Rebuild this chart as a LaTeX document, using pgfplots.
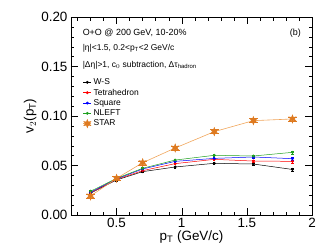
\documentclass[border=0pt]{standalone}
\usepackage{fontspec}
\setmainfont{Liberation Sans}
\usepackage{pgfplots}
\pgfplotsset{compat=1.18}
\definecolor{starorange}{RGB}{222,122,32}
\definecolor{starline}{RGB}{240,165,90}
\definecolor{nleft}{RGB}{30,160,30}
\pgfdeclareplotmark{hexstar}{%
  \pgfpathmoveto{\pgfqpointpolar{90}{\pgfplotmarksize}}%
  \pgfpathlineto{\pgfqpointpolar{120}{0.45\pgfplotmarksize}}%
  \pgfpathlineto{\pgfqpointpolar{150}{\pgfplotmarksize}}%
  \pgfpathlineto{\pgfqpointpolar{180}{0.45\pgfplotmarksize}}%
  \pgfpathlineto{\pgfqpointpolar{210}{\pgfplotmarksize}}%
  \pgfpathlineto{\pgfqpointpolar{240}{0.45\pgfplotmarksize}}%
  \pgfpathlineto{\pgfqpointpolar{270}{\pgfplotmarksize}}%
  \pgfpathlineto{\pgfqpointpolar{300}{0.45\pgfplotmarksize}}%
  \pgfpathlineto{\pgfqpointpolar{330}{\pgfplotmarksize}}%
  \pgfpathlineto{\pgfqpointpolar{0}{0.45\pgfplotmarksize}}%
  \pgfpathlineto{\pgfqpointpolar{30}{\pgfplotmarksize}}%
  \pgfpathlineto{\pgfqpointpolar{60}{0.45\pgfplotmarksize}}%
  \pgfpathclose
  \pgfusepathqfillstroke}
\begin{document}
\begin{tikzpicture}
\path[use as bounding box] (-71bp,-35bp) rectangle (255bp,215bp);
\begin{axis}[
  scale only axis,
  width=241bp, height=198bp,
  at={(0,0)}, anchor=south west,
  xmin=0.15, xmax=2, ymin=0, ymax=0.2,
  xtick={0.5,1,1.5,2},
  xticklabels={0.5,1,1.5,2},
  ytick={0,0.05,0.1,0.15,0.2},
  yticklabels={0.00,0.05,0.10,0.15,0.20},
  minor xtick={0.2,0.3,...,1.95},
  minor ytick={0.01,0.02,...,0.195},
  tick align=inside,
  major tick length=7bp, minor tick length=3.5bp,
  tick style={black, line width=0.4pt},
  ticklabel style={font=\fontsize{13.5}{15}\selectfont},
  /pgf/number format/assume math mode=true,
  xlabel={p$_{\mathrm{T}}$ (GeV/c)},
  ylabel={v$_{2}$(p$_{\mathrm{T}}$)},
  label style={font=\fontsize{13.5}{15}\selectfont},
  xlabel style={yshift=4bp},
  ylabel style={yshift=-2bp},
  axis line style={line width=0.5pt},
  legend style={draw=none, fill=none, font=\fontsize{8.5}{10}\selectfont,
    at={(rel axis cs:0.045,0.705)}, anchor=north west, row sep=-1.1bp,
    inner sep=1pt},
  legend cell align=left,
  legend image code/.code={%
    \draw[mark repeat=2,mark phase=2] plot coordinates {(0bp,0bp)(4bp,0bp)(8bp,0bp)};},
]
\addplot[black, mark=*, mark size=1.2pt, line width=0.5pt,
  error bars/.cd, y dir=both, y explicit]
  coordinates {(0.3,0.0220)+-(0,0.0008) (0.5,0.0354)+-(0,0.0008) (0.7,0.0438)+-(0,0.0008) (0.95,0.0485)+-(0,0.0008) (1.25,0.0522)+-(0,0.0009) (1.55,0.0515)+-(0,0.0010) (1.85,0.0460)+-(0,0.0015)};
\addplot[red, mark=*, mark size=1.2pt, line width=0.5pt,
  error bars/.cd, y dir=both, y explicit]
  coordinates {(0.3,0.0225)+-(0,0.0008) (0.5,0.0360)+-(0,0.0008) (0.7,0.0448)+-(0,0.0008) (0.95,0.0519)+-(0,0.0008) (1.25,0.0562)+-(0,0.0009) (1.55,0.0545)+-(0,0.0010) (1.85,0.0542)+-(0,0.0015)};
\addplot[blue, mark=*, mark size=1.2pt, line width=0.5pt,
  error bars/.cd, y dir=both, y explicit]
  coordinates {(0.3,0.0230)+-(0,0.0008) (0.5,0.0365)+-(0,0.0008) (0.7,0.0465)+-(0,0.0008) (0.95,0.0542)+-(0,0.0008) (1.25,0.0572)+-(0,0.0009) (1.55,0.0586)+-(0,0.0010) (1.85,0.0569)+-(0,0.0015)};
\addplot[nleft, mark=*, mark size=1.2pt, line width=0.5pt,
  error bars/.cd, y dir=both, y explicit]
  coordinates {(0.3,0.0240)+-(0,0.0008) (0.5,0.0370)+-(0,0.0008) (0.7,0.0472)+-(0,0.0008) (0.95,0.0555)+-(0,0.0008) (1.25,0.0603)+-(0,0.0009) (1.55,0.0596)+-(0,0.0010) (1.85,0.0633)+-(0,0.0015)};
\addplot[starline, line width=0.6pt, mark=hexstar, mark size=4.3pt,
  mark options={draw=starorange, fill=starorange, line width=0.3pt},
  error bars/.cd, y dir=both, y explicit, error bar style={starorange}]
  coordinates {(0.3,0.0192)+-(0,0.002) (0.5,0.0370)+-(0,0.002) (0.7,0.0528)+-(0,0.002) (0.95,0.0677)+-(0,0.002) (1.25,0.0842)+-(0,0.002) (1.55,0.0953)+-(0,0.002) (1.85,0.0970)+-(0,0.002)};
\legend{W-S, Tetrahedron, Square, NLEFT, STAR}
\node[anchor=west, font=\fontsize{9}{10}\selectfont, inner sep=0] at (rel axis cs:0.048,0.919) {O+O @ 200 GeV, 10-20\%};
\node[anchor=west, font=\fontsize{8.5}{10}\selectfont, inner sep=0] at (rel axis cs:0.048,0.843) {|η|<1.5, 0.2<p$_{\mathrm{T}}$<2 GeV/c};
\node[anchor=west, font=\fontsize{8.5}{10}\selectfont, inner sep=0] at (rel axis cs:0.048,0.757) {|Δη|>1, c$_{0}$ subtraction, Δτ$_{\mathrm{hadron}}$};
\node[anchor=east, font=\fontsize{9}{10}\selectfont, inner sep=0] at (rel axis cs:0.955,0.919) {(b)};
\end{axis}
\end{tikzpicture}
\end{document}
